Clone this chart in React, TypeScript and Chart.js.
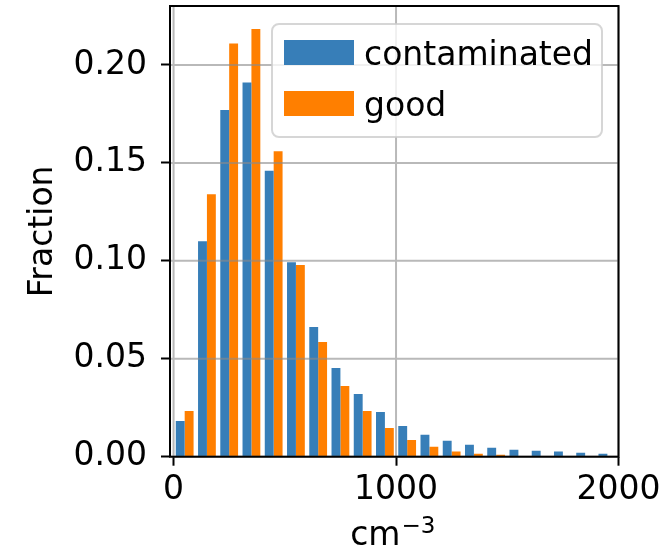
import { useEffect, useRef } from 'react';
import { Chart, registerables } from 'chart.js';

Chart.register(...registerables);

// Histogram bin centres (bin width 100, cm^-3)
const binCenters = [50, 150, 250, 350, 450, 550, 650, 750, 850, 950, 1050, 1150, 1250, 1350, 1450, 1550, 1650, 1750, 1850, 1950];
const contaminated = [0.0182, 0.110, 0.177, 0.191, 0.146, 0.0993, 0.0662, 0.0453, 0.032, 0.0228, 0.0157, 0.0112, 0.0082, 0.0061, 0.0046, 0.0036, 0.0031, 0.0026, 0.002, 0.0015];
const good = [0.0233, 0.134, 0.211, 0.2184, 0.156, 0.0979, 0.0586, 0.0361, 0.0233, 0.0147, 0.0085, 0.0051, 0.0026, 0.0015, 0.001, 0.0004, 0.0003, 0.0002, 0.0002, 0.0001];
const seriesNames = ['contaminated', 'good'];
const seriesColors = ['#377eb8', '#ff7f00'];
const xTicks = [0, 1000, 2000];
const yTicks = [0, 0.05, 0.1, 0.15, 0.2];
const xRange = [-16, 2000];
const yRange = [0, 0.2301];
const xTitleBase = 'cm';
const xTitleSup = '−3';
const yTitle = 'Fraction';

const FAMILY = '"DejaVu Sans", sans-serif';
const FS = 33;
const FS_SUP = 23;

export default function App() {
  const ref = useRef<HTMLCanvasElement>(null);

  useEffect(() => {
    document.body.style.margin = '0';
    const canvas = ref.current;
    if (!canvas) return;

    const overlay = {
      id: 'overlay',
      afterDatasetsDraw(chart: any) {
        const { ctx, chartArea: a, scales } = chart;
        ctx.save();
        ctx.strokeStyle = 'rgba(138,138,138,0.6)';
        ctx.lineWidth = 2;
        ctx.beginPath();
        xTicks.forEach((v) => {
          const x = scales.x.getPixelForValue(v);
          ctx.moveTo(x, a.top);
          ctx.lineTo(x, a.bottom);
        });
        yTicks.forEach((v) => {
          const y = scales.y.getPixelForValue(v);
          ctx.moveTo(a.left, y);
          ctx.lineTo(a.right, y);
        });
        ctx.stroke();
        ctx.strokeStyle = '#000';
        ctx.lineWidth = 2;
        ctx.strokeRect(a.left, a.top, a.right - a.left, a.bottom - a.top);
        ctx.restore();
      },
      afterDraw(chart: any) {
        const { ctx, chartArea: a } = chart;
        // legend
        const w = 330;
        const h = 113;
        const left = a.right - 16.5 - w;
        const top = a.top + 18;
        ctx.save();
        ctx.beginPath();
        ctx.roundRect(left, top, w, h, 7);
        ctx.fillStyle = 'rgba(255,255,255,0.8)';
        ctx.fill();
        ctx.strokeStyle = 'rgba(204,204,204,0.8)';
        ctx.lineWidth = 2;
        ctx.stroke();
        ctx.font = `${FS}px ${FAMILY}`;
        ctx.textBaseline = 'alphabetic';
        ctx.textAlign = 'left';
        seriesNames.forEach((name, i) => {
          const py = top + 16 + i * 51;
          ctx.fillStyle = seriesColors[i];
          ctx.fillRect(left + 12, py, 70, 25);
          ctx.fillStyle = '#000';
          ctx.fillText(name, left + 92, py + 25);
        });

        // x-axis title with superscript
        ctx.font = `${FS}px ${FAMILY}`;
        const wBase = ctx.measureText(xTitleBase).width;
        ctx.font = `${FS_SUP}px ${FAMILY}`;
        const wSup = ctx.measureText(xTitleSup).width;
        const cx = (a.left + a.right) / 2 - 1.5;
        const x0 = cx - (wBase + wSup + 1) / 2;
        const baseY = a.bottom + 88.3;
        ctx.fillStyle = '#000';
        ctx.font = `${FS}px ${FAMILY}`;
        ctx.fillText(xTitleBase, x0, baseY);
        ctx.font = `${FS_SUP}px ${FAMILY}`;
        ctx.fillText(xTitleSup, x0 + wBase + 1, baseY - 12.3);
        ctx.restore();
      },
    };

    const chart = new Chart(canvas, {
      type: 'bar',
      data: {
        datasets: [contaminated, good].map((vals, i) => ({
          label: seriesNames[i],
          data: binCenters.map((x, j) => ({ x, y: vals[j] })),
          backgroundColor: seriesColors[i],
          borderWidth: 0,
          categoryPercentage: 0.8,
          barPercentage: 1.0,
        })),
      },
      options: {
        responsive: false,
        animation: false,
        layout: { padding: { left: 0, top: 6, right: 52.5, bottom: 0 } },
        plugins: {
          legend: { display: false },
          tooltip: { enabled: false },
        },
        scales: {
          x: {
            type: 'linear',
            min: xRange[0],
            max: xRange[1],
            offset: false,
            afterBuildTicks: (s: any) => {
              s.ticks = xTicks.map((v) => ({ value: v }));
            },
            afterFit: (s: any) => {
              s.height = 93.3;
            },
            ticks: {
              callback: (v: any) => String(v),
              font: { size: FS, family: FAMILY },
              color: '#000',
              padding: 5,
              maxRotation: 0,
              autoSkip: false,
            },
            grid: {
              offset: false,
              drawOnChartArea: false,
              drawTicks: true,
              tickLength: 9,
              tickWidth: 2,
              tickColor: '#000',
            },
            border: { display: false },
            title: { display: false },
          },
          y: {
            type: 'linear',
            min: yRange[0],
            max: yRange[1],
            afterBuildTicks: (s: any) => {
              s.ticks = yTicks.map((v) => ({ value: v }));
            },
            afterFit: (s: any) => {
              s.width = 170;
              s.paddingTop = 0;
              s.paddingBottom = 0;
            },
            ticks: {
              callback: (v: any) => Number(v).toFixed(2),
              font: { size: FS, family: FAMILY },
              color: '#000',
              padding: 14,
              autoSkip: false,
            },
            grid: {
              offset: false,
              drawOnChartArea: false,
              drawTicks: true,
              tickLength: 9,
              tickWidth: 2,
              tickColor: '#000',
            },
            border: { display: false },
            title: {
              display: true,
              text: yTitle,
              font: { size: FS, family: FAMILY },
              color: '#000',
              padding: { top: 24, bottom: 0 },
            },
          },
        },
      },
      plugins: [overlay],
    } as any);

    return () => chart.destroy();
  }, []);

  return (
    <canvas
      ref={ref}
      width={671}
      height={550}
      style={{ display: 'block', width: '671px', height: '550px' }}
    />
  );
}
